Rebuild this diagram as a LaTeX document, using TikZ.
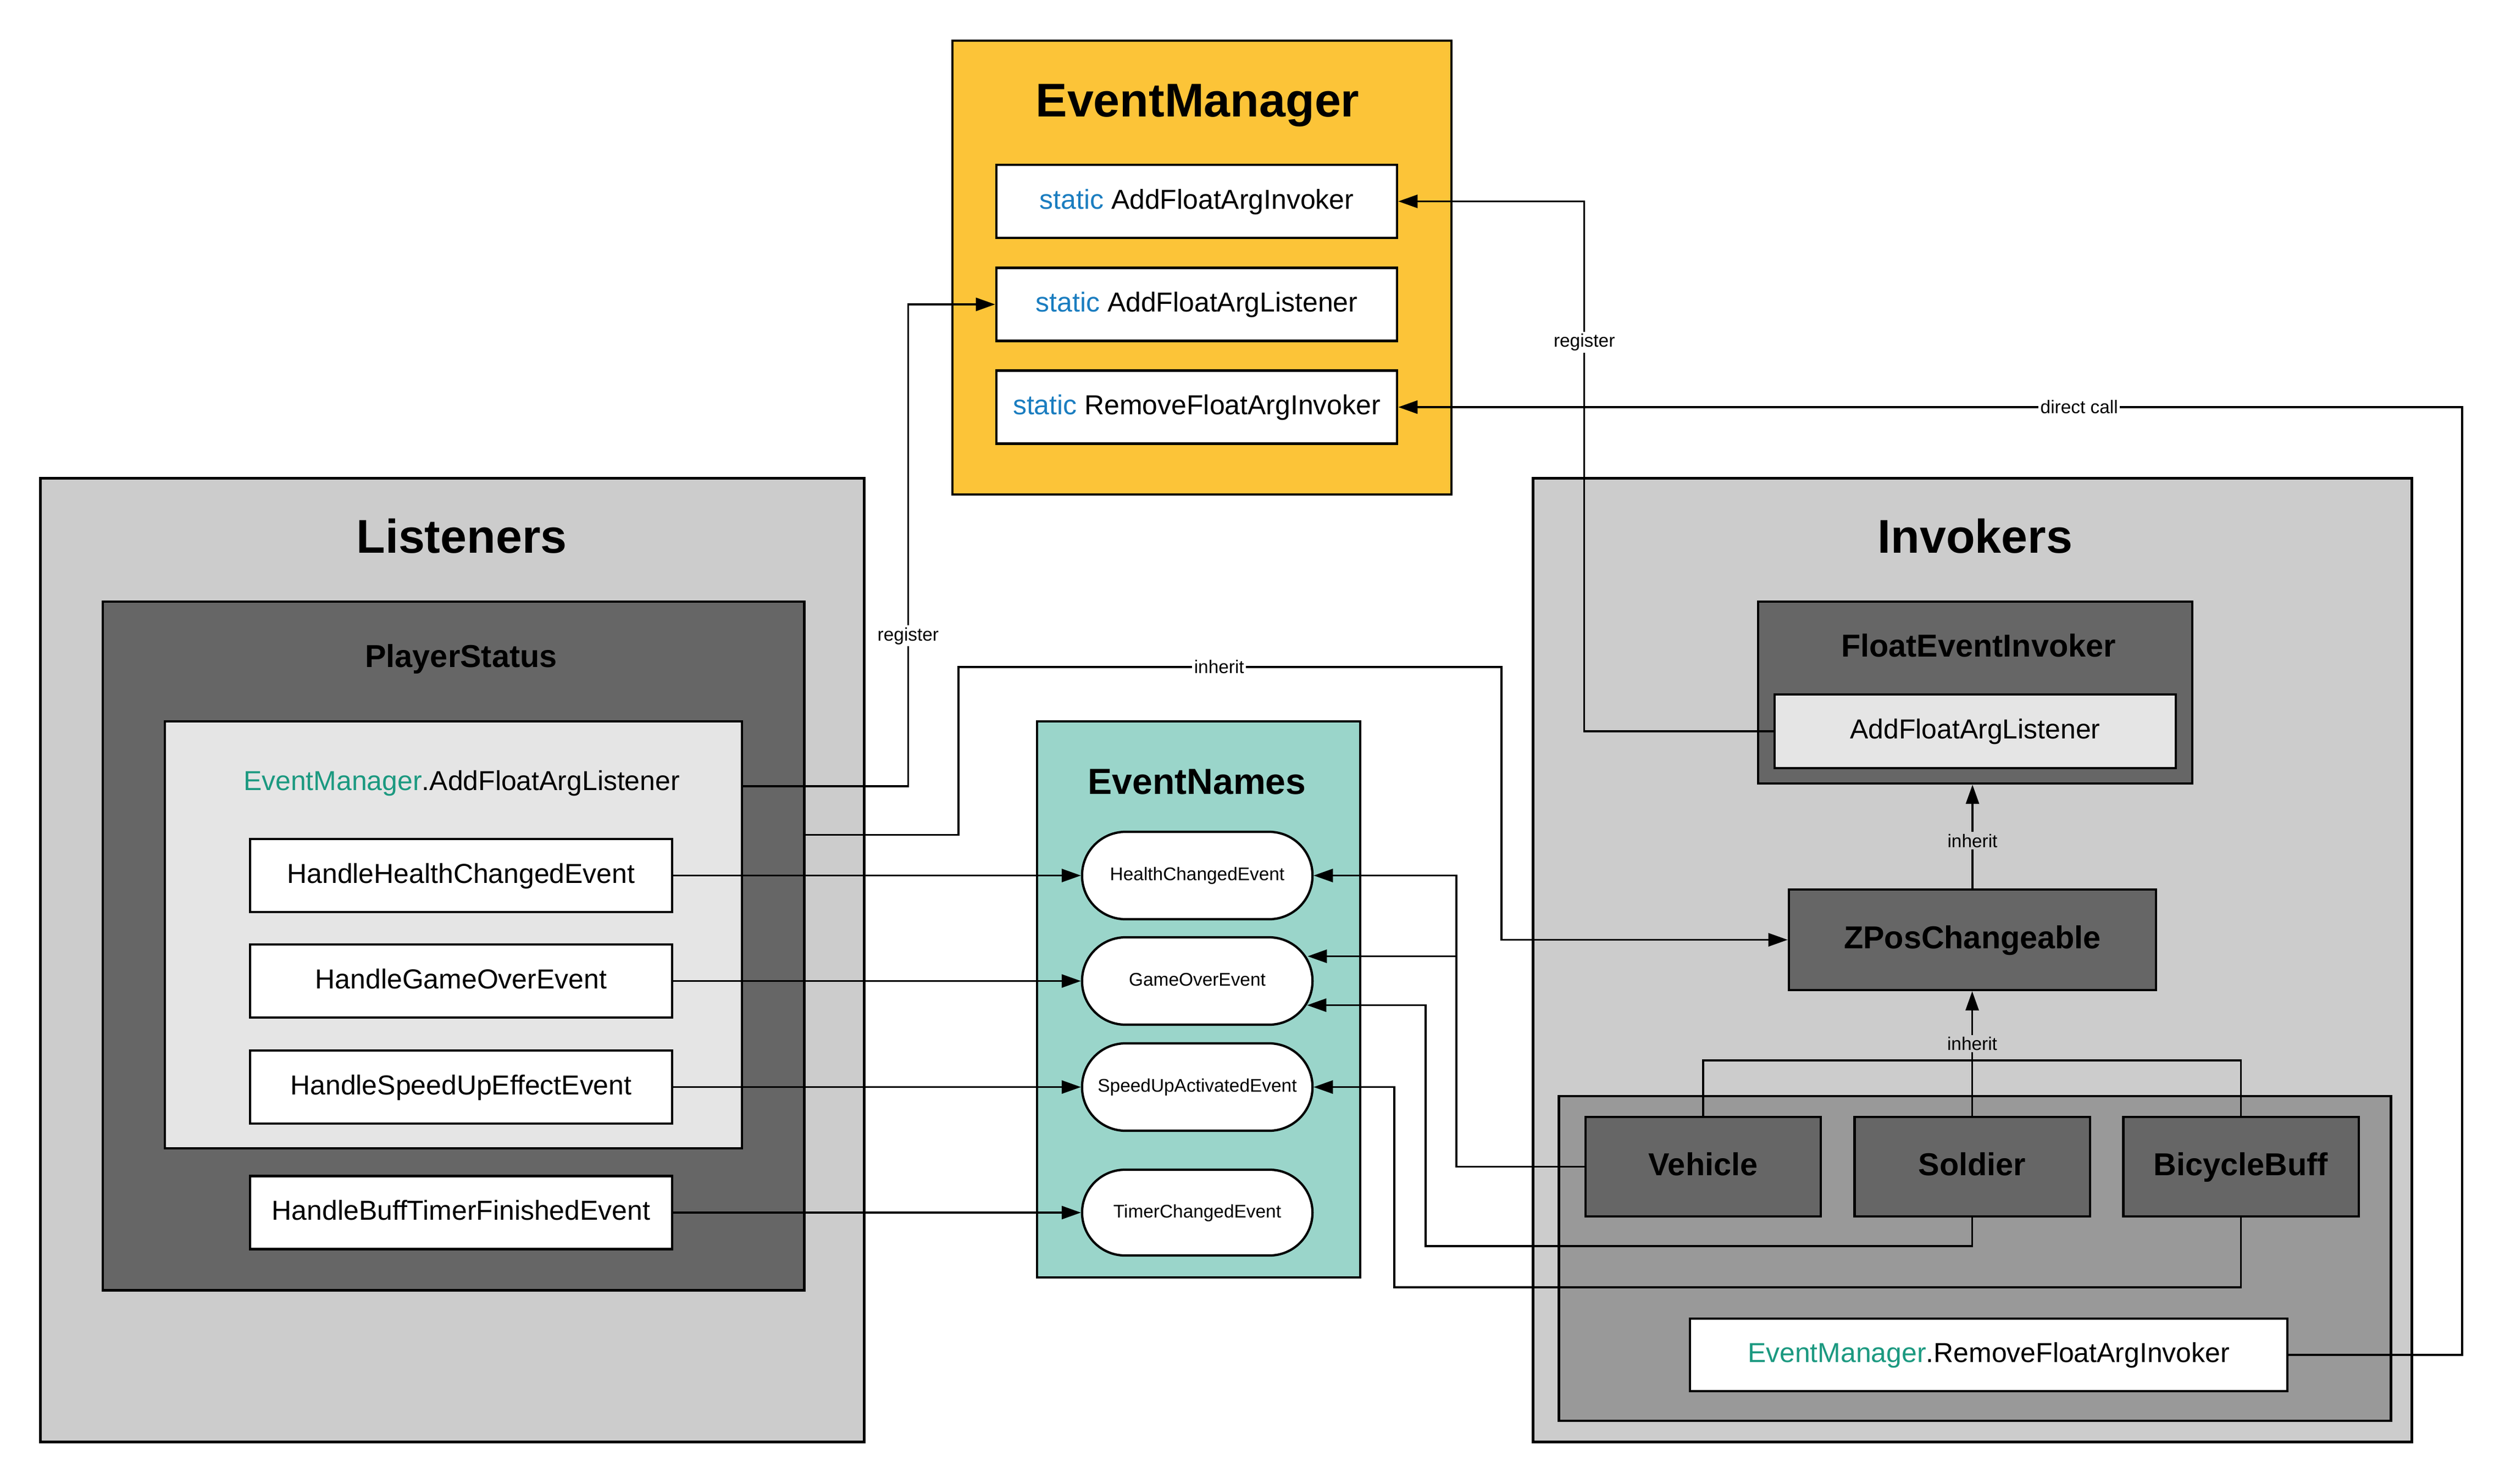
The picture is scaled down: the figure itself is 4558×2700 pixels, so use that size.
\documentclass[tikz,border=0pt]{standalone}
\usepackage{fontspec}
\setmainfont{Liberation Sans}
\usetikzlibrary{positioning, arrows.meta, calc}

\definecolor{emyellow}{HTML}{FCC438}
\definecolor{namesteal}{HTML}{9AD5CA}
\definecolor{lgray}{HTML}{CCCCCC}
\definecolor{mgray}{HTML}{999999}
\definecolor{dgray}{HTML}{666666}
\definecolor{pale}{HTML}{E5E5E5}
\definecolor{staticblue}{HTML}{1A7DC0}
\definecolor{emgreen}{HTML}{1B9980}

\begin{document}
\begin{tikzpicture}[x=0.01cm, y=-0.01cm,
    box/.style={draw, line width=1.2pt, inner sep=0pt},
    conn/.style={-{Triangle[length=0.35cm, width=0.24cm]}, line width=0.9pt},
    wire/.style={line width=0.9pt},
    lbl/.style={fill=white, inner sep=1pt, font=\fontsize{9.5pt}{11pt}\selectfont},
    bigtitle/.style={text height=18.4pt, text depth=4.9pt, font=\fontsize{24.5pt}{29pt}\selectfont\bfseries},
    nametitle/.style={text height=14.1pt, text depth=3.8pt, font=\fontsize{18.8pt}{22pt}\selectfont\bfseries},
    midtitle/.style={text height=12.3pt, text depth=3.3pt, font=\fontsize{16.4pt}{20pt}\selectfont\bfseries},
    bodyfont/.style={text height=10.7pt, text depth=2.8pt, font=\fontsize{14.2pt}{17pt}\selectfont},
    pillfont/.style={text height=7.1pt, text depth=1.9pt, font=\fontsize{9.5pt}{11pt}\selectfont}]
    \useasboundingbox (0,0) rectangle (4558,2700);

    % listeners side
    \node[box, fill=lgray, minimum width=14.98cm, minimum height=17.53cm] (listeners) at (823,1747.5) {};
    \node[bigtitle] (listenerstitle) at (840,983) {Listeners};
    \node[box, fill=dgray, minimum width=12.76cm, minimum height=12.53cm] (playerstatus) at (825,1721.5) {};
    \node[midtitle] (playerstatustitle) at (839,1199) {PlayerStatus};
    \node[box, fill=pale, minimum width=10.5cm, minimum height=7.77cm] (pslisten) at (825,1701.5) {};
    \node[bodyfont] (pscall) at (840,1425) {\textcolor{emgreen}{EventManager}.AddFloatArgListener};
    \node[box, fill=white, minimum width=7.68cm, minimum height=1.33cm, bodyfont] (hhealth) at (839,1593.5) {HandleHealthChangedEvent};
    \node[box, fill=white, minimum width=7.68cm, minimum height=1.33cm, bodyfont] (hgameover) at (839,1785.5) {HandleGameOverEvent};
    \node[box, fill=white, minimum width=7.68cm, minimum height=1.33cm, bodyfont] (hspeed) at (839,1978.5) {HandleSpeedUpEffectEvent};
    \node[box, fill=white, minimum width=7.68cm, minimum height=1.33cm, bodyfont] (hbuff) at (839,2207) {HandleBuffTimerFinishedEvent};

    % event manager
    \node[box, fill=emyellow, minimum width=9.08cm, minimum height=8.26cm] (em) at (2187,487) {};
    \node[bigtitle] (emtitle) at (2179,189) {EventManager};
    \node[box, fill=white, minimum width=7.29cm, minimum height=1.33cm, bodyfont] (eminvoker) at (2177.5,366.5) {\textcolor{staticblue}{static} AddFloatArgInvoker};
    \node[box, fill=white, minimum width=7.29cm, minimum height=1.33cm, bodyfont] (emlisten) at (2177.5,554) {\textcolor{staticblue}{static} AddFloatArgListener};
    \node[box, fill=white, minimum width=7.29cm, minimum height=1.33cm, bodyfont] (emremove) at (2177.5,741) {\textcolor{staticblue}{static} RemoveFloatArgInvoker};

    % event names
    \node[box, fill=namesteal, minimum width=5.88cm, minimum height=10.12cm] (eventnames) at (2181,1819) {};
    \node[nametitle] (eventnamestitle) at (2178,1427) {EventNames};
    \node[box, fill=white, rounded corners=0.79cm, minimum width=4.19cm, minimum height=1.59cm, pillfont] (phealth) at (2178.5,1593.5) {HealthChangedEvent};
    \node[box, fill=white, rounded corners=0.79cm, minimum width=4.19cm, minimum height=1.59cm, pillfont] (pgameover) at (2178.5,1785.5) {GameOverEvent};
    \node[box, fill=white, rounded corners=0.79cm, minimum width=4.19cm, minimum height=1.59cm, pillfont] (pspeed) at (2178.5,1978.5) {SpeedUpActivatedEvent};
    \node[box, fill=white, rounded corners=0.78cm, minimum width=4.19cm, minimum height=1.56cm, pillfont] (ptimer) at (2178.5,2207) {TimerChangedEvent};

    % invokers side
    \node[box, fill=lgray, minimum width=15.98cm, minimum height=17.53cm] (invokers) at (3589,1747.5) {};
    \node[bigtitle] (invokerstitle) at (3594,983) {Invokers};
    \node[box, fill=dgray, minimum width=7.9cm, minimum height=3.31cm] (fei) at (3594,1260.5) {};
    \node[midtitle] (feititle) at (3600,1180) {FloatEventInvoker};
    \node[box, fill=pale, minimum width=7.3cm, minimum height=1.34cm, bodyfont] (feiadd) at (3594,1331) {AddFloatArgListener};
    \node[box, fill=dgray, minimum width=6.68cm, minimum height=1.83cm, midtitle] (zpos) at (3589,1710.5) {ZPosChangeable};
    \node[box, fill=mgray, minimum width=15.13cm, minimum height=5.91cm] (users) at (3593.5,2290.5) {};
    \node[box, fill=dgray, minimum width=4.28cm, minimum height=1.81cm, midtitle] (vehicle) at (3099,2123.5) {Vehicle};
    \node[box, fill=dgray, minimum width=4.28cm, minimum height=1.81cm, midtitle] (soldier) at (3588.5,2123.5) {Soldier};
    \node[box, fill=dgray, minimum width=4.28cm, minimum height=1.81cm, midtitle] (bicyclebuff) at (4077.5,2123.5) {BicycleBuff};
    \node[box, fill=white, minimum width=10.87cm, minimum height=1.32cm, bodyfont] (remove) at (3618.5,2466) {\textcolor{emgreen}{EventManager}.RemoveFloatArgInvoker};

    % connectors
    \draw[conn] (pslisten.east |- pscall) ++(0,6) -- ++(300,0) |- node[lbl, pos=0.156] {register} (emlisten.west);
    \draw[conn] ([yshift=2.02cm]playerstatus.east) -| (1744,1214) -- node[lbl, pos=0.48] {inherit} (2732,1214) |- (zpos.west);
    \draw[conn] (hhealth.east) -- (phealth.west);
    \draw[conn] (hgameover.east) -- (pgameover.west);
    \draw[conn] (hspeed.east) -- (pspeed.west);
    \draw[conn] (hbuff.east) -- (ptimer.west);

    \draw[conn] (feiadd.west) -- ++(-344,0) |- node[lbl, pos=0.367] {register} (eminvoker.east);
    \draw[conn] (remove.east) -- (4480,2466) |- node[lbl, pos=0.68] {direct call} (emremove.east);

    \draw[conn] (zpos.north) -- node[lbl, fill=lgray, pos=0.46] {inherit} (zpos.north |- fei.south);
    \coordinate (inheritjoin) at (3588.5,1930);
    \draw[wire] (vehicle.north) |- (inheritjoin) -| (bicyclebuff.north);
    \draw[conn] (soldier.north) -- node[lbl, fill=lgray, pos=0.58] {inherit} (soldier.north |- zpos.south);

    \coordinate (govtop) at ($(pgameover.east)+(-11,-45)$);
    \coordinate (govbot) at ($(pgameover.east)+(-12,44)$);
    \draw[conn] (vehicle.west) -- (2650,2123.5) |- (phealth.east);
    \draw[conn] (vehicle.west) -- (2650,2123.5) |- (govtop);
    \draw[conn] (soldier.south) |- (2594,2268) |- (govbot);
    \draw[conn] (bicyclebuff.south) |- (2537,2343) |- (pspeed.east);
\end{tikzpicture}
\end{document}
